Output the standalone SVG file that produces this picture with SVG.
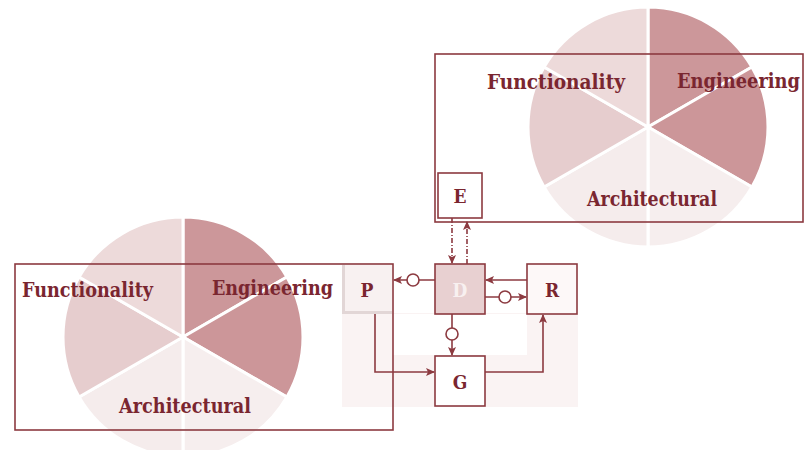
<svg xmlns="http://www.w3.org/2000/svg" width="805" height="450" viewBox="0 0 805 450">
<style>
.lbl{font-family:"DejaVu Serif Condensed","DejaVu Serif","Liberation Serif",serif;font-weight:bold;font-size:20px;fill:#7a2630}
.nl{font-family:"DejaVu Serif Condensed","DejaVu Serif","Liberation Serif",serif;font-weight:bold;font-size:19px;fill:#7a2630;text-anchor:middle}
.w{stroke:#fff;stroke-width:3}
.frame{fill:none;stroke:#8c3a40;stroke-width:1.6}
.box{stroke:#8c3a40;stroke-width:1.6}
.c{fill:none;stroke:#8c3a40;stroke-width:1.6}
.dash{stroke-dasharray:5 2 1 2}
.knot{fill:#fff;stroke:#8c3a40;stroke-width:1.6}
</style>
<defs>
<marker id="ah" markerWidth="9" markerHeight="8" refX="8" refY="4" orient="auto" markerUnits="userSpaceOnUse">
<path d="M0,0 L9,4 L0,8 L2,4 Z" fill="#8c3a40"/>
</marker>
</defs>
<rect width="805" height="450" fill="#fff"/>
<g id="backdrop">
<path d="M342,313 H578 V407 H342 Z M393,314 V355 H527 V314 Z" fill="#faf3f3" fill-rule="evenodd"/>
</g>
<g id="pie-top">
<path class="w" d="M648,127 L648,7 A120,120 0 0 1 751.92,67 Z" fill="#cc979a"/>
<path class="w" d="M648,127 L751.92,67 A120,120 0 0 1 751.92,187 Z" fill="#cc9699"/>
<path class="w" d="M648,127 L751.92,187 A120,120 0 0 1 648,247 Z" fill="#f6eeee"/>
<path class="w" d="M648,127 L648,247 A120,120 0 0 1 544.08,187 Z" fill="#f5ecec"/>
<path class="w" d="M648,127 L544.08,187 A120,120 0 0 1 544.08,67 Z" fill="#e6cdce"/>
<path class="w" d="M648,127 L544.08,67 A120,120 0 0 1 648,7 Z" fill="#eddada"/>
</g>
<g id="pie-left">
<path class="w" d="M183,337 L183,217 A120,120 0 0 1 286.92,277 Z" fill="#cc979a"/>
<path class="w" d="M183,337 L286.92,277 A120,120 0 0 1 286.92,397 Z" fill="#cc9699"/>
<path class="w" d="M183,337 L286.92,397 A120,120 0 0 1 183,457 Z" fill="#f6eeee"/>
<path class="w" d="M183,337 L183,457 A120,120 0 0 1 79.08,397 Z" fill="#f5ecec"/>
<path class="w" d="M183,337 L79.08,397 A120,120 0 0 1 79.08,277 Z" fill="#e6cdce"/>
<path class="w" d="M183,337 L79.08,277 A120,120 0 0 1 183,217 Z" fill="#eddada"/>
</g>
<g id="frame-top">
<rect class="frame" x="435" y="54" width="368" height="168"/>
<text class="lbl" x="487" y="89" textLength="138" lengthAdjust="spacingAndGlyphs">Functionality</text>
<text class="lbl" x="677" y="88" textLength="123" lengthAdjust="spacingAndGlyphs">Engineering</text>
<text class="lbl" x="587" y="206" textLength="130" lengthAdjust="spacingAndGlyphs">Architectural</text>
</g>
<g id="frame-left">
<rect class="frame" x="15" y="264" width="378" height="166"/>
<text class="lbl" x="22" y="297" textLength="131" lengthAdjust="spacingAndGlyphs">Functionality</text>
<text class="lbl" x="212" y="295" textLength="121" lengthAdjust="spacingAndGlyphs">Engineering</text>
<text class="lbl" x="119" y="413" textLength="132" lengthAdjust="spacingAndGlyphs">Architectural</text>
</g>
<g id="connectors">
<line class="c" x1="435" y1="280" x2="394" y2="280" marker-end="url(#ah)"/>
<circle class="knot" cx="413" cy="280" r="6"/>
<line class="c" x1="527" y1="280" x2="486" y2="280" marker-end="url(#ah)"/>
<line class="c" x1="485" y1="297" x2="526" y2="297" marker-end="url(#ah)"/>
<circle class="knot" cx="505" cy="297" r="6"/>
<line class="c" x1="452" y1="314" x2="452" y2="355" marker-end="url(#ah)"/>
<circle class="knot" cx="452" cy="334" r="6"/>
<line class="c dash" x1="452" y1="218" x2="452" y2="263" marker-end="url(#ah)"/>
<line class="c dash" x1="467" y1="264" x2="467" y2="222" marker-end="url(#ah)"/>
<path class="c" d="M375,313 V372 H434" marker-end="url(#ah)"/>
<path class="c" d="M485,372 H543 V315" marker-end="url(#ah)"/>
</g>
<g id="node-E">
<rect class="box" x="438" y="173" width="44" height="45" fill="#fff"/>
<text class="nl" x="460" y="203">E</text>
</g>
<g id="node-P">
<rect x="342" y="265" width="50" height="49" fill="#e2d6d6"/>
<rect x="345" y="265" width="47" height="46" fill="#f8f1f1"/>
<text class="nl" x="367" y="297">P</text>
</g>
<g id="node-D">
<rect class="box" x="435" y="264" width="50" height="50" fill="#e8d0d1"/>
<text class="nl" x="460" y="297" style="fill:#f8f0f0">D</text>
</g>
<g id="node-R">
<rect class="box" x="527" y="264" width="50" height="50" fill="#fdf8f8"/>
<text class="nl" x="552" y="297">R</text>
</g>
<g id="node-G">
<rect class="box" x="435" y="356" width="50" height="50" fill="#fff"/>
<text class="nl" x="460" y="389">G</text>
</g>
</svg>
